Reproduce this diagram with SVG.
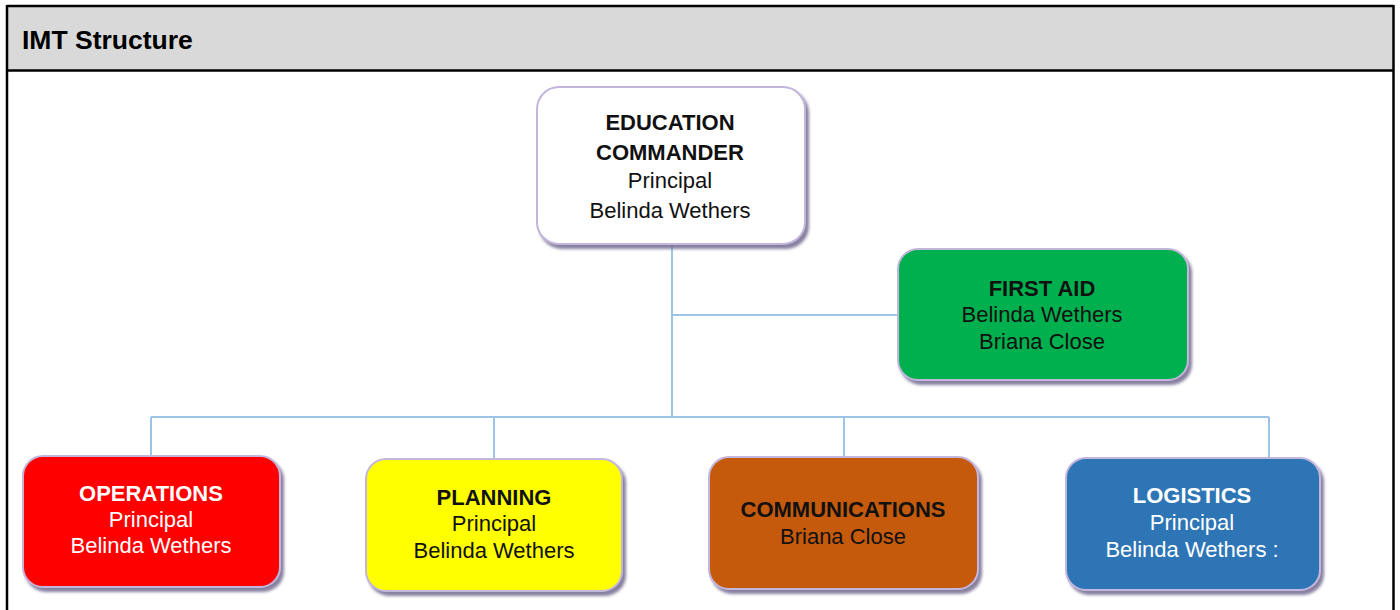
<svg xmlns="http://www.w3.org/2000/svg" width="1400" height="610" viewBox="0 0 1400 610">
  <defs>
    <filter id="shadow" x="-10%" y="-10%" width="125%" height="130%">
      <feDropShadow dx="3" dy="4" stdDeviation="1.6" flood-color="#7a7296" flood-opacity="0.9"/>
    </filter>
    <style>
      .box { stroke: #c3b6dc; stroke-width: 2; filter: url(#shadow); }
      .t { font-family: "Liberation Sans", Arial, sans-serif; font-size: 22px; text-anchor: middle; }
      .b { font-weight: bold; }
      .dark { fill: #111111; }
      .light { fill: #ffffff; }
      .link { fill: none; stroke: #9dc3e6; stroke-width: 2; }
      .frame { fill: none; stroke: #000000; stroke-width: 2.5; }
    </style>
  </defs>

  <rect x="0" y="0" width="1400" height="610" fill="#ffffff"/>

  <!-- table frame with title row -->
  <g id="frame">
    <rect x="7" y="6" width="1386.5" height="64" fill="#d9d9d9"/>
    <line class="frame" x1="7" y1="6" x2="1393.5" y2="6"/>
    <line class="frame" x1="7" y1="70.5" x2="1393.5" y2="70.5"/>
    <line class="frame" x1="7" y1="5" x2="7" y2="610"/>
    <line class="frame" x1="1393.5" y1="5" x2="1393.5" y2="610"/>
    <text x="22" y="49" font-family="Liberation Sans, Arial, sans-serif" font-size="26.5" font-weight="bold" fill="#000">IMT Structure</text>
  </g>

  <!-- connectors -->
  <g id="connectors">
    <path class="link" d="M672 245 V417"/>
    <path class="link" d="M672 315 H898"/>
    <path class="link" d="M151 417 H1269"/>
    <path class="link" d="M151 417 V455"/>
    <path class="link" d="M494 417 V459"/>
    <path class="link" d="M844 417 V457"/>
    <path class="link" d="M1269 417 V458"/>
  </g>

  <g id="education-commander">
    <rect class="box" x="537" y="87" width="268" height="157" rx="22" fill="#ffffff"/>
    <text class="t b dark" x="670" y="130">EDUCATION</text>
    <text class="t b dark" x="670" y="160">COMMANDER</text>
    <text class="t dark" x="670" y="188">Principal</text>
    <text class="t dark" x="670" y="218">Belinda Wethers</text>
  </g>

  <g id="first-aid">
    <rect class="box" x="898" y="249" width="290" height="131" rx="20" fill="#00b050"/>
    <text class="t b dark" x="1042" y="296">FIRST AID</text>
    <text class="t dark" x="1042" y="322">Belinda Wethers</text>
    <text class="t dark" x="1042" y="349">Briana Close</text>
  </g>

  <g id="operations">
    <rect class="box" x="23" y="456" width="257" height="131" rx="20" fill="#ff0000"/>
    <text class="t b light" x="151" y="501">OPERATIONS</text>
    <text class="t light" x="151" y="527">Principal</text>
    <text class="t light" x="151" y="553">Belinda Wethers</text>
  </g>

  <g id="planning">
    <rect class="box" x="366" y="459" width="256" height="132" rx="20" fill="#ffff00"/>
    <text class="t b dark" x="494" y="505">PLANNING</text>
    <text class="t dark" x="494" y="531">Principal</text>
    <text class="t dark" x="494" y="558">Belinda Wethers</text>
  </g>

  <g id="communications">
    <rect class="box" x="709" y="457" width="269" height="132" rx="20" fill="#c55a11"/>
    <text class="t b dark" x="843" y="517">COMMUNICATIONS</text>
    <text class="t dark" x="843" y="544">Briana Close</text>
  </g>

  <g id="logistics">
    <rect class="box" x="1066" y="458" width="254" height="132" rx="20" fill="#2e75b6"/>
    <text class="t b light" x="1192" y="503">LOGISTICS</text>
    <text class="t light" x="1192" y="530">Principal</text>
    <text class="t light" x="1192" y="557">Belinda Wethers :</text>
  </g>
</svg>
